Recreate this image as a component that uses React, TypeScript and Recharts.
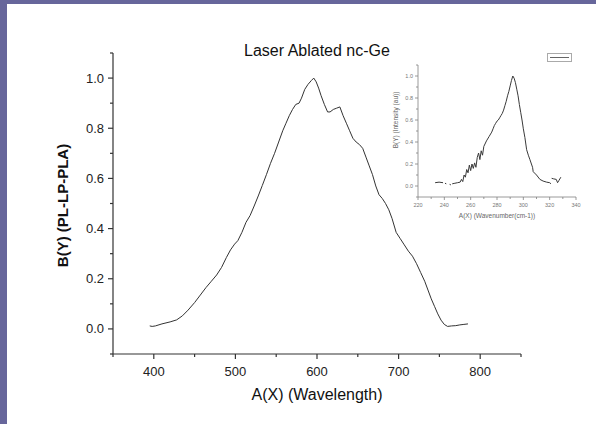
import React from 'react';
import { LineChart, Line, XAxis, YAxis, Legend, Label } from 'recharts';

const FONT = '"Liberation Sans", Arial, Helvetica, sans-serif';

// Main spectrum: wavelength vs normalised PL
const mainWavelength = [
  395, 398, 402, 410, 420, 428, 435, 442, 450, 457, 464, 470, 477, 483, 489, 494, 499, 503,
  508, 513, 518, 523, 528, 533, 538, 543, 548, 553, 558, 562, 566, 570, 574, 578, 581, 585,
  589, 593, 596, 599, 602, 605, 609, 613, 616, 620, 624, 628, 632, 636, 640, 644, 648, 652,
  656, 660, 664, 668, 672, 676, 680, 684, 688, 692, 697, 702, 707, 712, 717, 722, 727, 732,
  736, 740, 744, 748, 752, 756, 760, 765, 770, 775, 780, 785,
];
const mainIntensity = [
  0.012, 0.01, 0.012, 0.02, 0.028, 0.036, 0.052, 0.075, 0.105, 0.135, 0.165, 0.188, 0.215,
  0.245, 0.285, 0.315, 0.338, 0.352, 0.385, 0.425, 0.452, 0.49, 0.53, 0.572, 0.615, 0.66,
  0.7, 0.745, 0.79, 0.82, 0.85, 0.875, 0.895, 0.9, 0.92, 0.955, 0.975, 0.99, 1.0, 0.985,
  0.96, 0.93, 0.895, 0.865, 0.865, 0.875, 0.88, 0.885, 0.85, 0.82, 0.79, 0.76, 0.745, 0.735,
  0.72, 0.685, 0.65, 0.615, 0.57, 0.535, 0.52, 0.5, 0.475, 0.44, 0.385, 0.36, 0.335, 0.31,
  0.29, 0.26, 0.225, 0.19, 0.155, 0.12, 0.09, 0.06, 0.035, 0.018, 0.01, 0.012, 0.013, 0.016,
  0.018, 0.02,
];

// Inset: Raman spectrum, wavenumber vs intensity (null = gap in the trace)
const insetWavenumber = [
  233, 236, 239, 239.5, 240.5, 241.5, 242, 244, 245, 245.5, 246, 248, 250, 252, 253, 254,
  255, 256, 257, 258, 259, 260, 261, 262, 263, 264, 265, 266, 267, 268, 269, 270, 272, 274,
  276, 277, 278, 279, 280, 281, 282, 283, 284, 285, 286, 287, 288, 289, 290, 291, 292, 293,
  294, 295, 296, 297, 298, 299, 300, 301.2, 302.5, 303.8, 305, 307, 307.5, 310, 312.6, 315,
  317.7, 320, 321, 321.3, 321.5, 323, 325, 326, 327, 328.5,
];
const insetIntensity: (number | null)[] = [
  0.03, 0.035, 0.03, null, 0.025, 0.02, null, 0.015, 0.01, null, 0.02, 0.025, 0.03, 0.035,
  0.06, 0.04, 0.1, 0.08, 0.15, 0.12, 0.19, 0.14, 0.2, 0.16, 0.21, 0.17, 0.26, 0.3, 0.24,
  0.32, 0.28, 0.36, 0.41, 0.45, 0.49, 0.52, 0.55, 0.57, 0.59, 0.6, 0.62, 0.64, 0.66, 0.69,
  0.73, 0.77, 0.82, 0.86, 0.91, 0.96, 1.0, 0.98, 0.94, 0.88, 0.82, 0.74, 0.67, 0.6, 0.52,
  0.44, 0.33, 0.28, 0.24, 0.17, 0.13, 0.1, 0.06, 0.045, 0.035, 0.03, 0.02, null, 0.07,
  0.065, 0.06, 0.03, 0.05, 0.08,
];

const mainXTicks = [350, 400, 450, 500, 550, 600, 650, 700, 750, 800, 850];
const mainYTicks = [-0.1, 0, 0.1, 0.2, 0.3, 0.4, 0.5, 0.6, 0.7, 0.8, 0.9, 1.0, 1.1];
const insetXTicks = [220, 230, 240, 250, 260, 270, 280, 290, 300, 310, 320, 330, 340];
const insetYTicks = [-0.1, 0, 0.1, 0.2, 0.3, 0.4, 0.5, 0.6, 0.7, 0.8, 0.9, 1.0, 1.1];

const mainData = mainWavelength.map((w, i) => ({ w, v: mainIntensity[i] }));
const insetData = insetWavenumber.map((k, i) => ({ k, v: insetIntensity[i] }));

const AXIS = '#333';
const INSET_AXIS = '#808080';

const MainXTick = (props: any) => {
  const { x, y, payload } = props;
  const v = payload.value;
  const major = Math.round(v) % 100 === 0;
  return (
    <g>
      <line x1={x} y1={y} x2={x} y2={y + (major ? 5 : 3)} stroke={AXIS} strokeWidth={1.2} />
      {major && (
        <text x={x} y={y + 22} textAnchor="middle" fontSize={13} fill="#222" fontFamily={FONT}>
          {v}
        </text>
      )}
    </g>
  );
};

const MainYTick = (props: any) => {
  const { x, y, payload } = props;
  const v = payload.value;
  const major = Math.round(v * 10) % 2 === 0;
  return (
    <g>
      <line x1={x} y1={y} x2={x - (major ? 5 : 3)} y2={y} stroke={AXIS} strokeWidth={1.2} />
      {major && (
        <text x={x - 9} y={y + 4.5} textAnchor="end" fontSize={13} fill="#222" fontFamily={FONT}>
          {v.toFixed(1)}
        </text>
      )}
    </g>
  );
};

const InsetXTick = (props: any) => {
  const { x, y, payload } = props;
  const v = payload.value;
  const major = Math.round(v) % 20 === 0;
  return (
    <g>
      <line x1={x} y1={y} x2={x} y2={y + (major ? 3 : 2)} stroke={INSET_AXIS} strokeWidth={0.8} />
      {major && (
        <text x={x} y={y + 9.5} textAnchor="middle" fontSize={5.5} fill="#777" fontFamily={FONT}>
          {v}
        </text>
      )}
    </g>
  );
};

const InsetYTick = (props: any) => {
  const { x, y, payload } = props;
  const v = payload.value;
  const major = Math.round(v * 10) % 2 === 0;
  return (
    <g>
      <line x1={x} y1={y} x2={x - (major ? 3 : 2)} y2={y} stroke={INSET_AXIS} strokeWidth={0.8} />
      {major && (
        <text x={x - 5} y={y + 2} textAnchor="end" fontSize={5.5} fill="#777" fontFamily={FONT}>
          {v.toFixed(1)}
        </text>
      )}
    </g>
  );
};

const InsetLegend = () => (
  <div
    style={{
      width: 23,
      height: 7,
      border: '1px solid #aaa',
      position: 'relative',
      background: '#fff',
    }}
  >
    <div
      style={{
        position: 'absolute',
        left: 2,
        right: 2,
        top: 3,
        height: 1,
        background: '#666',
      }}
    />
  </div>
);

export default function App() {
  return (
    <div
      style={{
        position: 'fixed',
        left: 0,
        top: 0,
        width: 596,
        height: 424,
        background: '#67669b',
        overflow: 'hidden',
      }}
    >
      <div
        style={{
          position: 'absolute',
          left: 7,
          top: 4,
          width: 589,
          height: 420,
          background: '#ffffff',
        }}
      />
      <svg
        width={596}
        height={424}
        style={{ position: 'absolute', left: 0, top: 0 }}
      >
        <text x={317} y={56} textAnchor="middle" fontSize={16} fill="#111" fontFamily={FONT}>
          Laser Ablated nc-Ge
        </text>
      </svg>
      <div style={{ position: 'absolute', left: 0, top: 0 }}>
        <LineChart
          width={596}
          height={424}
          data={mainData}
          margin={{ top: 53, right: 75, bottom: 40, left: 0 }}
        >
          <XAxis
            dataKey="w"
            type="number"
            domain={[350, 850]}
            ticks={mainXTicks}
            interval={0}
            allowDataOverflow
            height={30}
            tickSize={0}
            tickMargin={0}
            tickLine={false}
            axisLine={{ stroke: AXIS, strokeWidth: 1.2 }}
            tick={<MainXTick />}
          >
            <Label
              content={(p: any) => {
                const vb = p.viewBox;
                return (
                  <text
                    x={vb.x + vb.width / 2}
                    y={vb.y + 46}
                    textAnchor="middle"
                    fontSize={16}
                    fill="#111"
                    fontFamily={FONT}
                  >
                    A(X) (Wavelength)
                  </text>
                );
              }}
            />
          </XAxis>
          <YAxis
            type="number"
            domain={[-0.1, 1.1]}
            ticks={mainYTicks}
            interval={0}
            allowDataOverflow
            width={113}
            tickSize={0}
            tickMargin={0}
            tickLine={false}
            axisLine={{ stroke: AXIS, strokeWidth: 1.2 }}
            tick={<MainYTick />}
          >
            <Label
              content={(p: any) => {
                const vb = p.viewBox;
                const cx = 67.5;
                const cy = vb.y + vb.height / 2 + 2;
                return (
                  <text
                    x={cx}
                    y={cy}
                    transform={`rotate(-90, ${cx}, ${cy})`}
                    textAnchor="middle"
                    fontSize={15}
                    fontWeight="bold"
                    fill="#111"
                    fontFamily={FONT}
                  >
                    B(Y) (PL-LP-PLA)
                  </text>
                );
              }}
            />
          </YAxis>
          <Line
            type="linear"
            dataKey="v"
            stroke="#333"
            strokeWidth={1}
            dot={false}
            activeDot={false}
            isAnimationActive={false}
          />
        </LineChart>
      </div>
      <div style={{ position: 'absolute', left: 380, top: 40 }}>
        <LineChart
          width={216}
          height={190}
          data={insetData}
          margin={{ top: 25, right: 20, bottom: 13, left: 0 }}
        >
          <XAxis
            dataKey="k"
            type="number"
            domain={[220, 340]}
            ticks={insetXTicks}
            interval={0}
            allowDataOverflow
            height={20}
            tickSize={0}
            tickMargin={0}
            tickLine={false}
            axisLine={{ stroke: INSET_AXIS, strokeWidth: 0.8 }}
            tick={<InsetXTick />}
          >
            <Label
              content={(p: any) => {
                const vb = p.viewBox;
                return (
                  <text
                    x={vb.x + vb.width / 2}
                    y={vb.y + 21}
                    textAnchor="middle"
                    fontSize={6.5}
                    fill="#666"
                    fontFamily={FONT}
                  >
                    A(X) (Wavenumber(cm-1))
                  </text>
                );
              }}
            />
          </XAxis>
          <YAxis
            type="number"
            domain={[-0.1, 1.1]}
            ticks={insetYTicks}
            interval={0}
            allowDataOverflow
            width={38}
            tickSize={0}
            tickMargin={0}
            tickLine={false}
            axisLine={{ stroke: INSET_AXIS, strokeWidth: 0.8 }}
            tick={<InsetYTick />}
          >
            <Label
              content={(p: any) => {
                const cx = 17.5;
                const cy = 80;
                return (
                  <text
                    x={cx}
                    y={cy}
                    transform={`rotate(-90, ${cx}, ${cy})`}
                    textAnchor="middle"
                    fontSize={6.5}
                    fill="#666"
                    fontFamily={FONT}
                  >
                    B(Y) (Intensity (au))
                  </text>
                );
              }}
            />
          </YAxis>
          <Legend
            layout="horizontal"
            verticalAlign="middle"
            align="center"
            content={() => <InsetLegend />}
            wrapperStyle={{ left: 167, top: 13, width: 25, height: 9 }}
          />
          <Line
            type="linear"
            dataKey="v"
            name="Raman"
            stroke="#3a3a3a"
            strokeWidth={1}
            dot={false}
            activeDot={false}
            connectNulls={false}
            isAnimationActive={false}
          />
        </LineChart>
      </div>
    </div>
  );
}
